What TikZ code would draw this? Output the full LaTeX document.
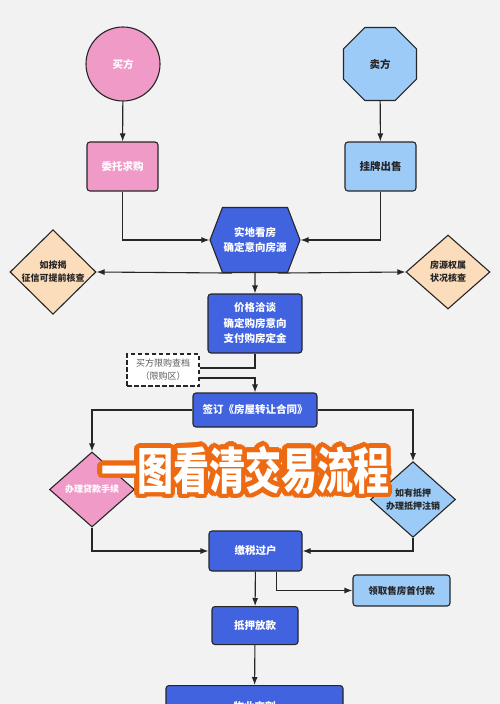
\documentclass[tikz,border=0pt]{standalone}
\usepackage{fontspec}
\setmainfont{Noto Sans CJK SC}
\usetikzlibrary{positioning,shapes.geometric,shapes.symbols,arrows.meta}
\definecolor{paper}{HTML}{F2F2F2}
\definecolor{deepblue}{HTML}{4263E0}
\definecolor{skyblue}{HTML}{9DCBF8}
\definecolor{rosepink}{HTML}{F09AC8}
\definecolor{peach}{HTML}{FCDDBB}
\definecolor{edge}{HTML}{262626}
\definecolor{titleorange}{HTML}{EE6A12}

\begin{document}
\begin{tikzpicture}[
    x=1pt, y=-1pt,
    base/.style={draw=edge, line width=1.1pt, align=center, inner sep=2pt,
                 font=\bfseries\fontsize{10.5}{15.5}\selectfont},
    deepbox/.style={base, rounded corners=3pt, fill=deepblue, text=white},
    skybox/.style={base, rounded corners=3pt, fill=skyblue, text=edge},
    pinkbox/.style={base, rounded corners=3pt, fill=rosepink, text=white},
    check/.style={base, diamond, inner sep=0pt,
                  font=\bfseries\fontsize{9}{13}\selectfont},
    arr/.style={-{Latex[length=8pt,width=6pt]}, line width=1.1pt, edge},
    link/.style={line width=1.1pt, edge},
    titletxt/.style={font=\bfseries\fontsize{50}{50}\selectfont, xscale=0.72,
                     inner sep=0pt}
  ]
    \fill[paper] (0,0) rectangle (500,704);
    \useasboundingbox (0,0) rectangle (500,704);

    % parties
    \node[base, circle, fill=rosepink, text=white, minimum size=74pt, inner sep=0pt]
         (buyer) at (123,64) {买方};
    \node[base, regular polygon, regular polygon sides=8, fill=skyblue, text=edge,
          minimum size=79pt, inner sep=0pt] (seller) at (380,64) {卖方};
    \node[pinkbox, minimum width=71pt, minimum height=49pt] (entrust) at (122.5,166.5) {委托求购};
    \node[skybox, minimum width=71pt, minimum height=49pt] (listing) at (380.5,166.5) {挂牌出售};

    % viewing and checks
    \node[base, signal, signal to=west and east, signal pointer angle=138,
          fill=deepblue, text=white, minimum width=90pt, minimum height=65pt,
          inner sep=0pt] (visit) at (255,240) {实地看房\\确定意向房源};
    \node[check, fill=peach, text=edge, minimum width=86pt, minimum height=74pt]
         (credit) at (53,272) {如按揭\\征信可提前核查};
    \node[check, fill=peach, text=edge, minimum width=84pt, minimum height=74pt]
         (owner) at (448,272) {房源权属\\状况核查};

    \node[deepbox, minimum width=94pt, minimum height=59pt] (price) at (255,323.5)
         {价格洽谈\\确定购房意向\\支付购房定金};
    \node[draw=edge, dash pattern=on 4.5pt off 2.5pt, line width=1.1pt, fill=white,
          text=edge!75, align=center, minimum width=72pt, minimum height=32pt,
          inner sep=1pt, font=\fontsize{9}{13}\selectfont] (limit) at (163,370)
         {买方限购查档\\（限购区）};
    \node[deepbox, minimum width=124pt, minimum height=34pt] (contract) at (255,410)
         {签订《房屋转让合同》};

    \node[check, fill=rosepink, text=white, minimum width=85pt, minimum height=75pt]
         (loan) at (92,489.5) {办理贷款手续};
    \node[check, fill=skyblue, text=edge, minimum width=85pt, minimum height=75pt]
         (release) at (413,499.5) {如有抵押\\办理抵押注销};

    \node[deepbox, minimum width=93pt, minimum height=40pt] (transfer) at (255.5,551) {缴税过户};
    \node[skybox, minimum width=97pt, minimum height=31pt,
          font=\bfseries\fontsize{9.5}{13}\selectfont] (downpay) at (401.5,590.5) {领取售房首付款};
    \node[deepbox, anchor=north, minimum width=86pt, minimum height=38pt] (lend)
         at (255,606) {抵押放款};
    \node[deepbox, anchor=north, minimum width=177pt, inner ysep=16pt] (handover)
         at (254.5,685) {物业交割};

    % connectors
    \draw[arr] (buyer) -- (entrust);
    \draw[arr] (seller) -- (listing);
    \draw[arr] (entrust.south) |- (visit.west);
    \draw[arr] (listing.south) |- (visit.east);
    \draw[arr] ([xshift=10pt]visit.south west) -- (credit.east);
    \draw[arr] ([xshift=-10pt]visit.south east) -- (owner.west);
    \draw[arr] (visit) -- (price);
    \draw[link] (price.south) |- ([yshift=2pt]limit.east);
    \draw[arr] ([yshift=-8pt]limit.east) -| (contract.north);
    \draw[arr] (contract.west) -| (loan.north);
    \draw[arr] (contract.east) -| (release.north);
    \draw[arr] (loan.south) |- (transfer.west);
    \draw[arr] (release.south) |- (transfer.east);
    \draw[arr] (transfer) -- (lend);
    \draw[arr] ([xshift=21pt]transfer.south) |- (downpay.west);
    \draw[arr] (lend) -- (handover);

    % title banner
    \foreach \a in {0,20,...,340}
      \node[titletxt, text=titleorange] at ([shift={(\a:4.5)}]245,470) {一图看清交易流程};
    \node[titletxt, text=titleorange] at (247.5,472.5) {一图看清交易流程};
    \node[titletxt, text=white] (title) at (245,470) {一图看清交易流程};
\end{tikzpicture}
\end{document}
